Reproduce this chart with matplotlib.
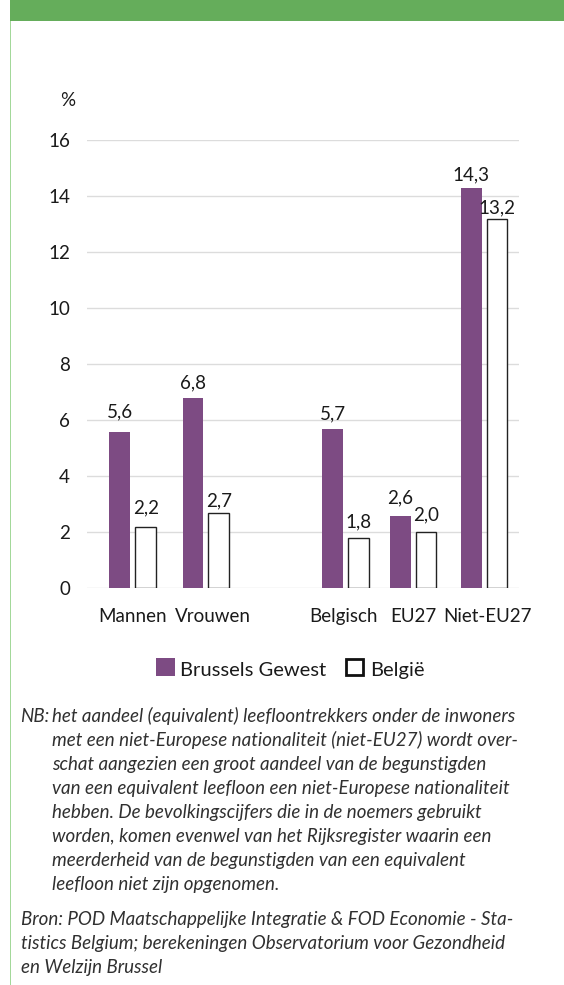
import matplotlib
matplotlib.use("Agg")
import matplotlib.pyplot as plt
from matplotlib.patches import Rectangle

categories = ["Mannen", "Vrouwen", "Belgisch", "EU27", "Niet-EU27"]
brussels = [5.6, 6.8, 5.7, 2.6, 14.3]
belgie = [2.2, 2.7, 1.8, 2.0, 13.2]
yticks = [0, 2, 4, 6, 8, 10, 12, 14, 16]
series_names = ["Brussels Gewest", "België"]

# layout (not data)
positions = [0, 1.03, 3.0, 3.95, 4.95]
label_positions = [0.004, 1.128, 2.966, 3.952, 4.996]
lab_off_bxl = [14.2, 9.6, 9.4, 12.5, 7.2]   # px above bar top
lab_off_bel = [13.4, 6.0, 10.2, 12.3, 5.7]

W, H = 564, 985
fig = plt.figure(figsize=(W / 100, H / 100), dpi=100)
FONT = ["Lato", "DejaVu Sans"]
plt.rcParams["font.family"] = FONT

def fx(x):
    return x / W

def fy(y):
    return 1 - y / H

PURPLE = "#7D4B83"
GREEN = "#65AD5B"
LGREEN = "#A3D89A"
TXT = "#1a1a1a"

# header and left line
fig.patches.append(Rectangle((fx(10), fy(21)), fx(554), 21 / H, transform=fig.transFigure,
                             facecolor=GREEN, edgecolor="none"))
fig.patches.append(Rectangle((fx(9.5), 0), 1.8 / W, fy(21), transform=fig.transFigure,
                             facecolor=LGREEN, edgecolor="none"))

left, right, top, bottom = 86.7, 519, 140.3, 588.3
ax = fig.add_axes([fx(left), fy(bottom), (right - left) / W, (bottom - top) / H])
unit = 71.0
ax.set_xlim((left - 132.7) / unit, (right - 132.7) / unit)
ax.set_ylim(0, 16)
ax.set_yticks(yticks)
ax.set_yticklabels([str(t) for t in yticks], fontsize=13.5, color=TXT)
ax.set_xticks(label_positions)
ax.set_xticklabels(categories, fontsize=13.5, color=TXT)
ax.tick_params(length=0)
ax.tick_params(axis="y", pad=12)
ax.tick_params(axis="x", pad=14)
for s in ax.spines.values():
    s.set_visible(False)
ax.grid(axis="y", color="#dcdcdc", linewidth=1.0)
ax.set_axisbelow(True)

bw = 0.29
off = 0.182
b1 = ax.bar([p - off for p in positions], brussels, width=bw, color=PURPLE, edgecolor="none", zorder=3)
b2 = ax.bar([p + off for p in positions], belgie, width=bw, color="white", edgecolor="#222222",
            linewidth=1.0, zorder=3)

for rects, vals, offs in ((b1, brussels, lab_off_bxl), (b2, belgie, lab_off_bel)):
    for r, v, o in zip(rects, vals, offs):
        ax.annotate(f"{v:.1f}".replace(".", ","), (r.get_x() + r.get_width() / 2, v),
                    xytext=(0, o * 72 / 100), textcoords="offset points",
                    ha="center", va="baseline", fontsize=13.5, color=TXT)

fig.text(fx(60), fy(106), "%", fontsize=13.5, color=TXT, va="baseline")

# legend
fig.patches.append(Rectangle((fx(156), fy(676)), 19 / W, 18 / H, transform=fig.transFigure,
                             facecolor=PURPLE, edgecolor="none"))
fig.text(fx(180), fy(676), series_names[0], fontsize=14.5, color=TXT, va="baseline")
fig.patches.append(Rectangle((fx(346), fy(675)), 17 / W, 16 / H, transform=fig.transFigure,
                             facecolor="white", edgecolor="#111111", linewidth=2.0))
fig.text(fx(370), fy(676), series_names[1], fontsize=14.5, color=TXT, va="baseline")

note_lines = [
    "het aandeel (equivalent) leefloontrekkers onder de inwoners",
    "met een niet-Europese nationaliteit (niet-EU27) wordt over-",
    "schat aangezien een groot aandeel van de begunstigden",
    "van een equivalent leefloon een niet-Europese nationaliteit",
    "hebben. De bevolkingscijfers die in de noemers gebruikt",
    "worden, komen evenwel van het Rijksregister waarin een",
    "meerderheid van de begunstigden van een equivalent",
    "leefloon niet zijn opgenomen.",
]
src_lines = [
    "Bron: POD Maatschappelijke Integratie & FOD Economie - Sta-",
    "tistics Belgium; berekeningen Observatorium voor Gezondheid",
    "en Welzijn Brussel",
]
nkw = dict(fontsize=13.5, style="italic", fontweight="normal", color="#303030", va="baseline")
fig.text(fx(20), fy(721.7), "NB:", **nkw)
for i, line in enumerate(note_lines):
    fig.text(fx(52), fy(721.7 + 24 * i), line, **nkw)
for i, line in enumerate(src_lines):
    fig.text(fx(21), fy(925 + 24 * i), line, **nkw)

fig.savefig("out.png", dpi=100)
